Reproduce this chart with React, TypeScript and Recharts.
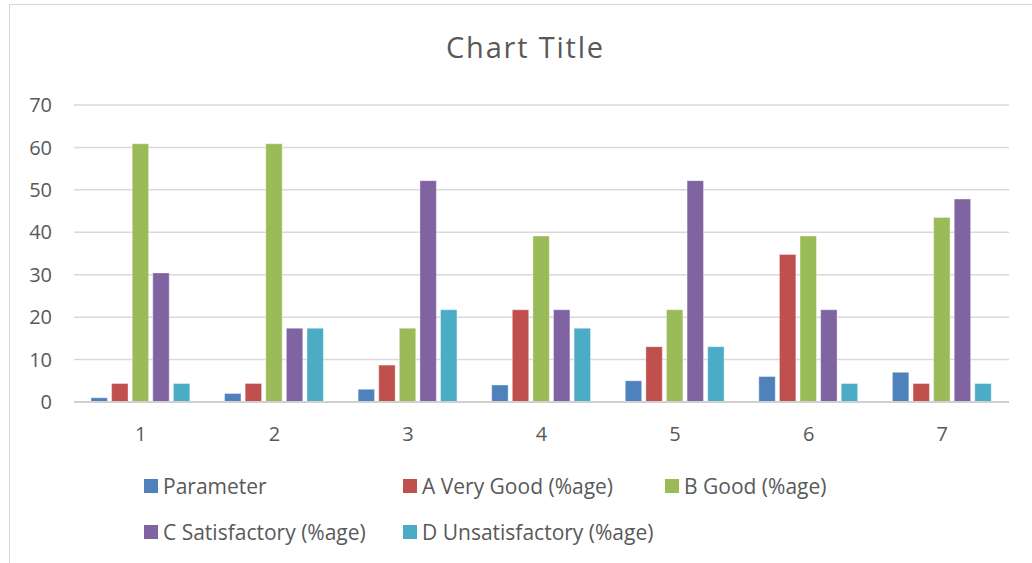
import React from 'react';
import { BarChart, Bar, XAxis, YAxis, CartesianGrid, Legend } from 'recharts';

const categories = ['1', '2', '3', '4', '5', '6', '7'];
const parameter = [1, 2, 3, 4, 5, 6, 7];
const veryGood = [4.35, 4.35, 8.7, 21.74, 13.04, 34.78, 4.35];
const good = [60.87, 60.87, 17.39, 39.13, 21.74, 39.13, 43.48];
const satisfactory = [30.43, 17.39, 52.17, 21.74, 52.17, 21.74, 47.83];
const unsatisfactory = [4.35, 17.39, 21.74, 17.39, 13.04, 4.35, 4.35];
const yTicks = [0, 10, 20, 30, 40, 50, 60, 70];

const seriesKeys = ['p', 'a', 'b', 'c', 'd'];
const seriesNames = [
  'Parameter',
  'A Very Good (%age)',
  'B Good (%age)',
  'C Satisfactory (%age)',
  'D Unsatisfactory (%age)',
];
const seriesColors = ['#4F81BD', '#C0504D', '#9BBB59', '#8064A2', '#4BACC6'];
const seriesValues = [parameter, veryGood, good, satisfactory, unsatisfactory];

const data = categories.map((c, i) => {
  const row: Record<string, string | number> = { name: c };
  seriesKeys.forEach((k, s) => {
    row[k] = seriesValues[s][i];
  });
  return row;
});

const FONT = '"Open Sans", sans-serif';
const TEXT = '#595959';

const legendCols = [144, 403, 665];
const legendRows = [479, 525];

const LegendContent = () => (
  <div style={{ position: 'relative', width: 1032, height: 563, pointerEvents: 'none' }}>
    {seriesNames.map((n, i) => {
      const col = i % 3;
      const row = Math.floor(i / 3);
      return (
        <div
          key={n}
          style={{
            position: 'absolute',
            left: legendCols[col],
            top: legendRows[row] - 7,
            height: 28,
            display: 'flex',
            alignItems: 'center',
            whiteSpace: 'nowrap',
          }}
        >
          <span style={{ display: 'inline-block', width: 14, height: 14, background: seriesColors[i], marginRight: 5 }} />
          <span style={{ fontFamily: FONT, fontSize: 21, color: TEXT, lineHeight: '28px' }}>{n}</span>
        </div>
      );
    })}
  </div>
);

export default function App() {
  return (
    <div style={{ position: 'absolute', left: 0, top: 0, width: 1032, height: 563, overflow: 'hidden', background: '#fff' }}>
      <div
        style={{
          position: 'absolute',
          left: 9,
          top: 4,
          width: 1100,
          height: 700,
          border: '1.5px solid #d9d9d9',
          boxSizing: 'border-box',
        }}
      />
      <BarChart
        width={1032}
        height={563}
        data={data}
        margin={{ top: 105, right: 23, bottom: 131, left: 0 }}
        barSize={16.4}
        barGap={4.2}
        style={{ position: 'absolute', left: 0, top: 0 }}
      >
        <CartesianGrid vertical={false} stroke="#d9d9d9" strokeWidth={1.5} />
        <XAxis
          dataKey="name"
          height={30}
          axisLine={{ stroke: '#d0d0d0', strokeWidth: 2 }}
          tickLine={false}
          tickSize={0}
          tickMargin={25}
          tick={{ fill: TEXT, fontSize: 20, fontFamily: FONT }}
        />
        <YAxis
          width={74}
          domain={[0, 70]}
          ticks={yTicks}
          axisLine={false}
          tickLine={false}
          tickSize={0}
          tickMargin={22}
          tick={{ fill: TEXT, fontSize: 20, fontFamily: FONT }}
        />
        <Legend
          layout="horizontal"
          verticalAlign="middle"
          align="center"
          wrapperStyle={{ position: 'absolute', left: 0, top: 0, width: 1032, height: 563 }}
          content={() => <LegendContent />}
        />
        {seriesKeys.map((k, i) => (
          <Bar
            key={k}
            dataKey={k}
            name={seriesNames[i]}
            fill={seriesColors[i]}
            stroke="#ffffff"
            strokeOpacity={0.35}
            strokeWidth={1}
            isAnimationActive={false}
          />
        ))}
      </BarChart>
      <svg width={1032} height={80} style={{ position: 'absolute', left: 0, top: 0 }}>
        <text x={525.5} y={58} textAnchor="middle" fontFamily={FONT} fontSize={29} letterSpacing={1.8} fill={TEXT}>
          Chart Title
        </text>
      </svg>
    </div>
  );
}
